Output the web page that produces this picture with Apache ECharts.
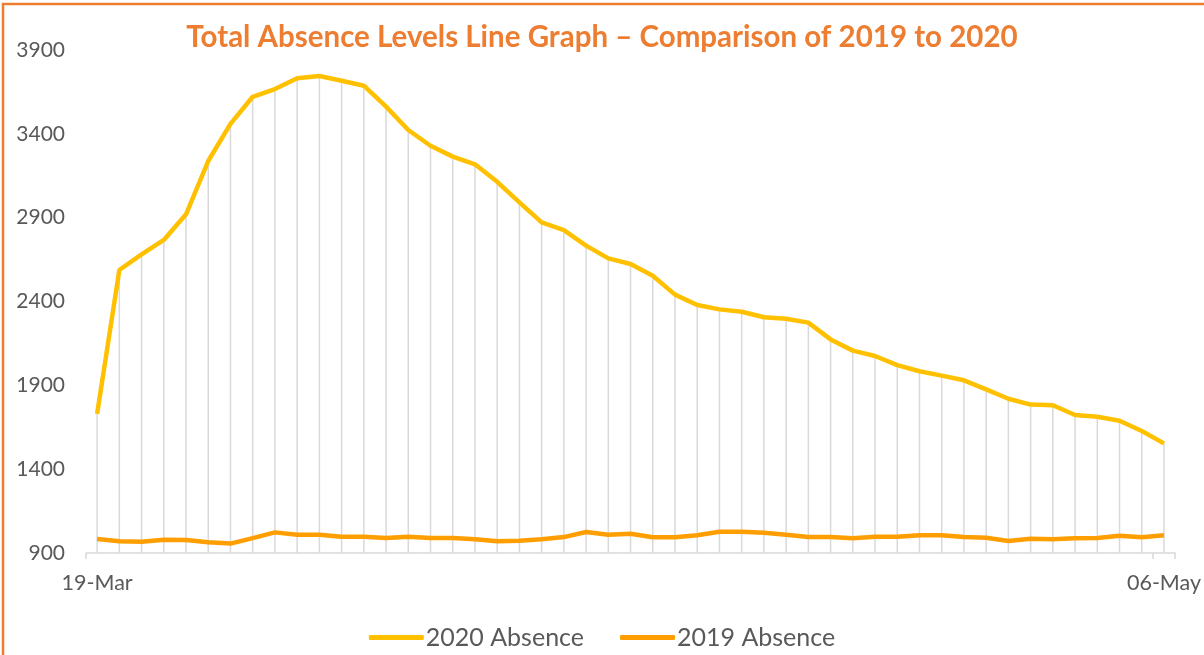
<!DOCTYPE html>
<html>
<head>
<meta charset="utf-8">
<script src="https://cdn.jsdelivr.net/npm/echarts@6/dist/echarts.min.js"></script>
<style>
html,body{margin:0;padding:0;background:#fff;}
#chart{width:1204px;height:655px;}
</style>
</head>
<body>
<div id="chart"></div>
<script>
const categories = [
  '19-Mar','20-Mar','21-Mar','22-Mar','23-Mar','24-Mar','25-Mar','26-Mar','27-Mar','28-Mar',
  '29-Mar','30-Mar','31-Mar','01-Apr','02-Apr','03-Apr','04-Apr','05-Apr','06-Apr','07-Apr',
  '08-Apr','09-Apr','10-Apr','11-Apr','12-Apr','13-Apr','14-Apr','15-Apr','16-Apr','17-Apr',
  '18-Apr','19-Apr','20-Apr','21-Apr','22-Apr','23-Apr','24-Apr','25-Apr','26-Apr','27-Apr',
  '28-Apr','29-Apr','30-Apr','01-May','02-May','03-May','04-May','05-May','06-May'
];
const absence2020 = [
  1730, 2588, 2681, 2767, 2920, 3238, 3459, 3621, 3667, 3731,
  3745, 3717, 3687, 3562, 3423, 3329, 3264, 3218, 3114, 2991,
  2872, 2826, 2733, 2657, 2624, 2554, 2441, 2379, 2353, 2339,
  2306, 2297, 2274, 2174, 2107, 2075, 2021, 1984, 1958, 1930,
  1876, 1820, 1785, 1781, 1723, 1713, 1689, 1628, 1554
];
const absence2019 = [
  983, 970, 967, 979, 978, 964, 956, 989, 1023, 1009,
  1009, 997, 997, 989, 997, 989, 989, 982, 970, 973,
  982, 995, 1025, 1009, 1015, 994, 994, 1006, 1027, 1027,
  1021, 1009, 995, 995, 988, 997, 997, 1006, 1006, 995,
  991, 972, 985, 982, 988, 989, 1003, 994, 1006
];
const yTicks = { min: 900, max: 3900, interval: 500 };
const titleText = 'Total Absence Levels Line Graph \u2013 Comparison of 2019 to 2020';
const seriesNames = ['2020 Absence', '2019 Absence'];

const FONT = 'Lato, "Liberation Sans", sans-serif';
const chart = echarts.init(document.getElementById('chart'), null, {renderer: 'canvas'});
const lastIdx = categories.length - 1;
chart.setOption({
  animation: false,
  backgroundColor: '#ffffff',
  graphic: [{
    type: 'rect', silent: true, z: 100,
    shape: { x: 3, y: 4, width: 1400, height: 900 },
    style: { fill: 'none', stroke: '#ED7D31', lineWidth: 2.5 }
  }],
  title: {
    text: titleText, left: 'center', top: 17,
    textStyle: { color: '#ED7D31', fontFamily: FONT, fontWeight: 'bold', fontSize: 29.5 }
  },
  grid: { left: 86, right: 27, top: 50, bottom: 102, containLabel: false },
  legend: {
    data: [
      { name: seriesNames[0], icon: 'roundRect' },
      { name: seriesNames[1], icon: 'roundRect' }
    ],
    bottom: 0, left: 'center', itemWidth: 55, itemHeight: 5, itemGap: 36,
    textStyle: { color: '#595959', fontFamily: FONT, fontSize: 25, padding: [0, 0, 0, -3] }
  },
  xAxis: {
    type: 'category', data: categories, boundaryGap: true,
    axisLine: { lineStyle: { color: '#d9d9d9', width: 1.5 } },
    axisTick: { show: true, length: 6, lineStyle: { color: '#d9d9d9', width: 1.5 },
      interval: function (i) { return i === 0 || i === lastIdx; } },
    axisLabel: { color: '#595959', fontFamily: FONT, fontSize: 21.5, margin: 19,
      interval: function (i) { return i === 0 || i === lastIdx; } },
    splitLine: { show: false }
  },
  yAxis: {
    type: 'value', min: yTicks.min, max: yTicks.max, interval: yTicks.interval,
    axisLine: { show: false }, axisTick: { show: false },
    splitLine: { show: false },
    axisLabel: { color: '#595959', fontFamily: FONT, fontSize: 21, margin: 21,
      formatter: function (v) { return String(v); } }
  },
  series: [
    {
      name: 'drop', type: 'bar', data: absence2020, barWidth: 1.5, silent: true,
      itemStyle: { color: '#d9d9d9' }, z: 1, clip: true
    },
    {
      name: seriesNames[0], type: 'line', data: absence2020, symbol: 'none',
      lineStyle: { color: '#FFC000', width: 4.5 }, itemStyle: { color: '#FFC000' }, z: 3
    },
    {
      name: seriesNames[1], type: 'line', data: absence2019, symbol: 'none',
      lineStyle: { color: '#FF9E00', width: 4.5 }, itemStyle: { color: '#FF9E00' }, z: 3
    }
  ]
});
</script>
</body>
</html>
